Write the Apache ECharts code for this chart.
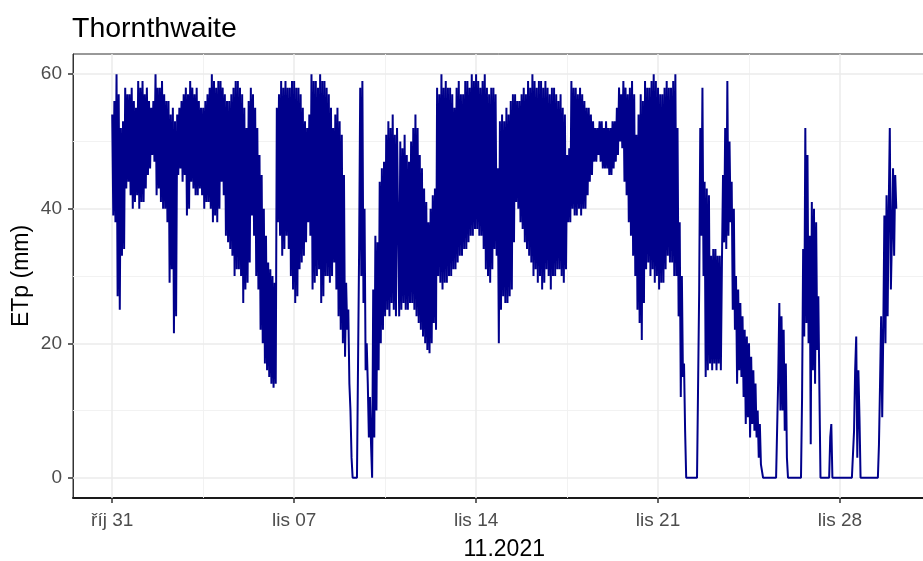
<!DOCTYPE html>
<html>
<head>
<meta charset="utf-8">
<script src="https://cdn.jsdelivr.net/npm/echarts@6/dist/echarts.min.js"></script>
<style>
html,body{margin:0;padding:0;background:#fff;}
#chart{width:923px;height:561px;}
</style>
</head>
<body>
<div id="chart"></div>
<script>
// Time axis: hours since 31 Oct 2021 00:00, hourly values
const stepHours = 1;
const tickHours = [0, 168, 336, 504, 672];
const tickLabels = ['říj 31', 'lis 07', 'lis 14', 'lis 21', 'lis 28'];
const minorHours = [84, 252, 420, 588, 756];
const yTicks = [0, 20, 40, 60];
const yMinor = [10, 30, 50];
const titleText = 'Thornthwaite';
const xName = '11.2021';
const yName = 'ETp (mm)';

// ETp (mm), one row per day (24 hourly values)
const etp = [
  54,39,56,38,60,27,57,25,52,33,53,34,58,43,57,44,57,42,58,40,56,41,55,42,
  59,40,58,41,59,41,57,43,58,45,56,46,55,48,56,47,60,42,58,43,58,41,59,40,
  57,40,56,38,56,29,54,31,55,21.5,53,24,54,45,55,46,56,44,57,45,58,39,57,40,
  59,44,58,43,57,42,58,42,56,43,55,42,55,40,56,41,57,41,58,40,60,38,59,39,
  58,38,59,40,59,44,58,42,57,36,56,35,56,34,57,33,58,30,59,31,59,31,58,30,
  57,26,55,28,52,29,56,32,58,39,57,36,55,30,52,28,48,22,45,20,40,17,36,16,
  32,15,31,14,30,13.4,29,14,55,38,57,36,59,33,58,34,59,36,58,34,58,30,59,28,
  59,26,58,27,58,31,57,32,55,33,53,35,52,38,54,36,60,28,59,29,59,30,58,31,
  60,26,59,27,59,30,58,30,57,29,55,30,52,32,54,28,55,24,53,22,51,20,45,18,
  29,22,25,14,10,3,0,0,0,0,0,0,34,58,30,59,26,40,16,20,14,6,12,5,
  0,28,6,36,10,35,16,44,20,46,22,47,24,51,25,53,24,52,26,54,25,51,24,52,
  52,24,50,25,49,26,51,25,48,25,47,26,50,26,52,25,54,24,52,23,48,22,46,21,
  43,20,41,19,38,18.5,40,20,42,23,43,22,58,30,57,29,60,28,58,29,59,29,58,30,
  58,30,57,31,55,31,58,32,59,33,57,33,57,34,59,34,59,35,58,36,60,36,59,37,
  60,37,59,36,58,36,59,34,60,31,58,30,57,29,58,31,58,34,57,33,46,20,53,25,
  54,27,53,26,55,26,54,27,56,28,57,35,57,41,56,40,56,38,57,37,58,35,57,34,
  59,33,58,32,60,30,59,31,58,29,59,30,59,28,58,29,59,31,58,30,57,28,58,30,
  58,30,57,31,56,31,57,30,55,29,54,31,48,38,49,38,59,40,58,39,58,39,57,40,
  58,39,57,40,56,40,55,42,55,44,54,45,53,47,52,47,52,48,53,47,53,46,52,46,
  53,46,52,45,52,45,53,46,53,47,55,48,58,50,57,49,59,44,58,42,57,38,58,36,
  59,33,57,30,51,25,54,23,57,20.5,56,26,59,31,58,32,58,30,59,31,60,29,59,30,
  58,28,57,29,57,29,58,31,59,33,58,32,58,32,59,30,60,30,52,24,38,12,30,15,
  17,7,0,0,0,0,0,0,0,0,0,0,0,0,28,52,36,58,30,44,15,43,16,42,
  17,33,16,34,17,34,16,33,17,33,16,32,45,35,52,34,59,36,50,38,44,25,40,22,
  30,14,28,16,26,15,24,12,22,8,21,9,20,6,18,8,16,7,14,6,10,3,8,2,
  2,0,0,0,0,0,0,0,0,0,0,0,0,0,0,15,26,10,24,10,22,7,17,3,
  0,0,0,0,0,0,0,0,0,0,0,0,0,12,34,21,52,23,48,20,36,5,41,16,
  40,14,38,19,27,13,0,0,0,0,0,0,0,0,0,6,8,0,0,0,0,0,0,0,
  0,0,0,0,0,0,0,0,0,0,0,0,0,7,16,21,3,16,9,0,0,0,0,0,
  0,0,0,0,0,0,0,0,0,0,0,0,5,14,24,9,22,39,20,42,24,40,52,28,
  36,46,33,45,40
];

const seriesData = etp.map((v, i) => [i * stepHours, v]);
const lastHour = (etp.length - 1) * stepHours;
const pad = lastHour * 0.05;

const font = '"Liberation Sans", Arial, sans-serif';
const gridMajor = { color: '#EBEBEB', width: 1.5, type: 'solid' };
const gridMinor = { color: '#F0F0F0', width: 0.9, type: 'solid' };

const gridLines = []
  .concat(yMinor.map(v => ({ yAxis: v, lineStyle: gridMinor })))
  .concat(minorHours.map(v => ({ xAxis: v, lineStyle: gridMinor })))
  .concat(yTicks.map(v => ({ yAxis: v, lineStyle: gridMajor })))
  .concat(tickHours.map(v => ({ xAxis: v, lineStyle: gridMajor })));

const chart = echarts.init(document.getElementById('chart'), null, { renderer: 'canvas' });
chart.setOption({
  animation: false,
  backgroundColor: '#ffffff',
  title: {
    text: titleText, left: 72, top: 15, padding: 0,
    textStyle: { fontSize: 28.5, fontWeight: 'normal', color: '#000', fontFamily: font }
  },
  grid: {
    left: 73, top: 54, width: 862.5, height: 444,
    outerBoundsMode: 'none', containLabel: false,
    show: true, borderColor: '#333333', borderWidth: 1, backgroundColor: '#ffffff'
  },
  xAxis: {
    type: 'value', min: -pad, max: lastHour + pad,
    axisLine: { show: true, onZero: false, lineStyle: { color: '#1a1a1a', width: 2 } },
    axisTick: { show: true, customValues: tickHours, length: 5, lineStyle: { color: '#333', width: 1.5 } },
    axisLabel: {
      customValues: tickHours, color: '#4D4D4D', fontSize: 19, margin: 13, fontFamily: font,
      formatter: v => tickLabels[tickHours.indexOf(v)] || ''
    },
    splitLine: { show: false },
    name: xName, nameLocation: 'middle', nameGap: 40, nameMoveOverlap: false,
    nameTextStyle: { fontSize: 23, color: '#000', fontFamily: font }
  },
  yAxis: {
    type: 'value', min: -3, max: 63,
    axisLine: { show: true, onZero: false, lineStyle: { color: '#333', width: 1 } },
    axisTick: { show: true, customValues: yTicks, length: 5, lineStyle: { color: '#333', width: 1.5 } },
    axisLabel: { customValues: yTicks, color: '#4D4D4D', fontSize: 19, margin: 11, fontFamily: font },
    splitLine: { show: false },
    name: yName, nameLocation: 'middle', nameGap: 40, nameRotate: 90, nameMoveOverlap: false,
    nameTextStyle: { fontSize: 23, color: '#000', fontFamily: font }
  },
  series: [
    {
      type: 'line', data: [], z: 1, silent: true,
      markLine: { z: 1, silent: true, symbol: ['none', 'none'], label: { show: false }, animation: false, data: gridLines }
    },
    {
      type: 'line', data: seriesData, z: 3, showSymbol: false, symbol: 'none',
      lineStyle: { color: '#00008B', width: 2 }, clip: true
    }
  ]
});
</script>
</body>
</html>
